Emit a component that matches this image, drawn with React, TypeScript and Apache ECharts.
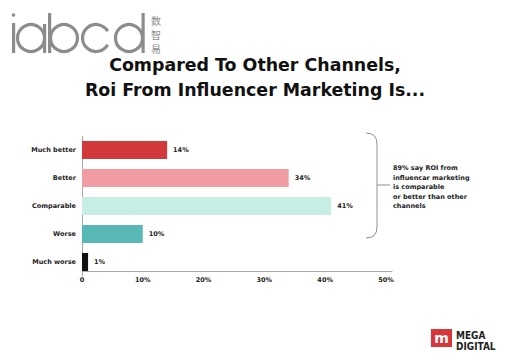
import React, { useEffect, useRef } from "react";
import * as echarts from "echarts";

const titleLines = ["Compared To Other Channels,", "Roi From Influencer Marketing Is..."];
const categories = ["Much better", "Better", "Comparable", "Worse", "Much worse"];
const values = [14, 34, 41, 10, 1];
const barColors = ["#d1393b", "#f09ca2", "#c7eee4", "#58b8b5", "#111111"];
const axisMax = 51;
const tickStep = 10;
const logoChars = ["数", "智", "易"];
const noteLines = ["89% say ROI from", "influencar marketing", "is comparable", "or better than other", "channels"];
const brandLines = ["MEGA", "DIGITAL"];

export default function App() {
  const ref = useRef<HTMLDivElement>(null);
  useEffect(() => {
    const chart = echarts.init(ref.current!, null, { renderer: "svg" });
    const gray = "#8c8c8c";
    const font = "'DejaVu Sans', sans-serif";
    chart.setOption({
      animation: false,
      backgroundColor: "#ffffff",
      grid: { left: 82, top: 136, width: 310, height: 140 },
      xAxis: {
        type: "value",
        min: 0,
        max: axisMax,
        interval: tickStep,
        offset: -5,
        axisLine: { show: true, lineStyle: { color: "#a8a8a8", width: 1 } },
        axisTick: { show: false },
        splitLine: { show: false },
        axisLabel: {
          margin: 5,
          color: "#222",
          fontSize: 6.5,
          fontWeight: "bold",
          fontFamily: font,
          formatter: (v: number) => (v === 0 ? "0" : v + "%"),
        },
      },
      yAxis: {
        type: "category",
        inverse: true,
        data: categories,
        axisLine: { show: true, lineStyle: { color: "#a8a8a8", width: 1 } },
        axisTick: { show: false },
        axisLabel: {
          margin: 6,
          color: "#222",
          fontSize: 6.5,
          fontWeight: "bold",
          fontFamily: font,
        },
      },
      series: [
        {
          type: "bar",
          barWidth: 18,
          data: values.map((v, i) => ({ value: v, itemStyle: { color: barColors[i] } })),
          label: {
            show: true,
            position: "right",
            distance: 6,
            color: "#222",
            fontSize: 6.5,
            fontWeight: "bold",
            fontFamily: font,
            formatter: (p: any) => p.value + "%",
          },
        },
      ],
      graphic: [
        // iabcd logo
        { type: "circle", shape: { cx: 13.5, cy: 15, r: 1.8 }, style: { fill: gray } },
        { type: "rect", shape: { x: 12, y: 23, width: 3.2, height: 30 }, style: { fill: gray } },
        { type: "circle", shape: { cx: 31, cy: 38, r: 13.5 }, style: { fill: "none", stroke: gray, lineWidth: 3.2 } },
        { type: "rect", shape: { x: 43, y: 24, width: 3.2, height: 29 }, style: { fill: gray } },
        { type: "rect", shape: { x: 48, y: 13, width: 3.2, height: 40 }, style: { fill: gray } },
        { type: "circle", shape: { cx: 64, cy: 38, r: 13.5 }, style: { fill: "none", stroke: gray, lineWidth: 3.2 } },
        {
          type: "arc",
          shape: { cx: 96, cy: 38, r: 13.5, startAngle: Math.PI / 6, endAngle: (Math.PI * 11) / 6, clockwise: true },
          style: { fill: "none", stroke: gray, lineWidth: 3.2 },
        },
        { type: "circle", shape: { cx: 129, cy: 38, r: 13.5 }, style: { fill: "none", stroke: gray, lineWidth: 3.2 } },
        { type: "rect", shape: { x: 141.5, y: 13, width: 3.2, height: 40 }, style: { fill: gray } },
        ...logoChars.map((c, i) => ({
          type: "text",
          x: 156,
          y: 20 + i * 14,
          style: { text: c, fill: gray, fontSize: 10, fontFamily: "'Noto Sans CJK SC'", align: "center", verticalAlign: "middle" },
        })),
        // title
        ...titleLines.map((t, i) => ({
          type: "text",
          x: 255,
          y: 65 + i * 25,
          style: {
            text: t,
            fill: "#111",
            fontSize: 17.4,
            fontWeight: "bold",
            fontFamily: font,
            align: "center",
            verticalAlign: "middle",
          },
        })),
        // bracket
        {
          type: "bezierCurve",
          shape: { x1: 366, y1: 133, cpx1: 377, cpy1: 133, x2: 377, y2: 144 },
          style: { stroke: "#8f8f8f", lineWidth: 1, fill: "none" },
        },
        { type: "line", shape: { x1: 377, y1: 144, x2: 377, y2: 227 }, style: { stroke: "#8f8f8f", lineWidth: 1 } },
        {
          type: "bezierCurve",
          shape: { x1: 377, y1: 227, cpx1: 377, cpy1: 238, x2: 366, y2: 238 },
          style: { stroke: "#8f8f8f", lineWidth: 1, fill: "none" },
        },
        { type: "line", shape: { x1: 377, y1: 185, x2: 390, y2: 185 }, style: { stroke: "#8f8f8f", lineWidth: 1 } },
        ...noteLines.map((t, i) => ({
          type: "text",
          x: 393,
          y: 168 + i * 9.5,
          style: {
            text: t,
            fill: "#222",
            fontSize: 6.5,
            fontWeight: "bold",
            fontFamily: font,
            verticalAlign: "middle",
          },
        })),
        // MEGA DIGITAL logo
        { type: "rect", shape: { x: 431, y: 329, width: 21, height: 18 }, style: { fill: "#d9363a" } },
        {
          type: "text",
          x: 441.5,
          y: 338,
          style: { text: "m", fill: "#fff", fontSize: 14, fontWeight: "bold", fontFamily: font, align: "center", verticalAlign: "middle" },
        },
        ...brandLines.map((t, i) => ({
          type: "text",
          x: 456,
          y: 335 + i * 11.5,
          style: {
            text: t,
            fill: "#222",
            fontSize: 10,
            fontWeight: "bold",
            fontFamily: "'Liberation Sans Narrow', 'DejaVu Sans Condensed', sans-serif",
            verticalAlign: "middle",
          },
        })),
      ],
    });
    return () => chart.dispose();
  }, []);
  return <div ref={ref} style={{ position: "fixed", left: 0, top: 0, width: 512, height: 364 }} />;
}
